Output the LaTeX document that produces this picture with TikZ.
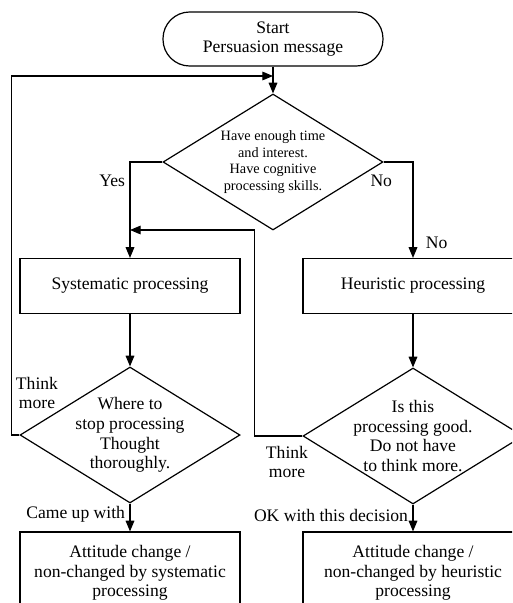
\documentclass[tikz,border=0pt]{standalone}
\usepackage{fontspec}
\setmainfont{Liberation Serif}
\usetikzlibrary{arrows.meta,shapes.geometric}

\tikzset{
  txt/.style={font=\fontsize{13.2}{14.8}\selectfont, align=center},
  qtxt/.style={font=\fontsize{10.7}{12.5}\selectfont, align=center},
  term/.style={txt, draw, line width=0.9pt, rounded corners=20pt, minimum width=165pt, minimum height=40.5pt, inner sep=0pt},
  box/.style={txt, draw, line width=0.9pt, minimum width=165pt, minimum height=41.25pt, inner sep=0pt},
  decision/.style={draw, diamond, line width=0.9pt, minimum width=165pt, minimum height=102pt, inner sep=0pt},
}

\begin{document}
\begin{tikzpicture}[x=0.75pt, y=-0.75pt, >={Triangle[length=8pt,width=6.5pt]}, line width=0.8pt]
\useasboundingbox (0,0) rectangle (512,603);
\clip (0,0) rectangle (512,603);

% start
\node[term] (start) at (273,39) {Start\\Persuasion message};

% first question
\node[decision, label={[qtxt]center:{Have enough time\\and interest.\\Have cognitive\\processing skills.}}] (q1) at (273,162) {};

% two routes
\node[box] (sys) at (130,286) {Systematic processing};
\node[box] (heu) at (413,286) {Heuristic processing};

% checks
\node[decision, label={[txt]center:{Where to\\stop processing\\Thought\\thoroughly.}}] (q2) at (130,435) {};
\node[decision, label={[txt]center:{Is this\\processing good.\\Do not have\\to think more.}}] (q3) at (413,436) {};

% results
\node[box, minimum height=61.5pt] (res1) at (130,573) {Attitude change /\\non-changed by systematic\\processing};
\node[box, minimum height=61.5pt] (res2) at (413,573) {Attitude change /\\non-changed by heuristic\\processing};

% where the loops come back
\coordinate (j1) at (273,76);
\coordinate (j2) at (130,230);

% arrows
\draw[->] (start) -- (q1);
\draw[->] (q1.west) -| (sys.north) node[txt, pos=0.6, left] (yes) {Yes};
\draw[->] (q1.east) -| (heu.north) node[txt, pos=0.6, left, xshift=-12pt] (no1) {No}
  node[txt, pos=0.92, right, xshift=6pt] (no2) {No};
\draw[->] (sys) -- (q2);
\draw[->] (heu) -- (q3);
\draw[->] (q2) -- (res1) node[txt, pos=0.4, left] (came) {Came up with};
\draw[->] (q3) -- (res2) node[txt, pos=0.4, left] (ok) {OK with this decision};

% loops
\draw[->] (q2.west) -- ++(-8,0) |- (j1);
\draw[->] (q3.west) -- ++(-48,0) |- (j2);
\node[txt] (more1) at (37,393) {Think\\more};
\node[txt] (more2) at (287,462) {Think\\more};
\end{tikzpicture}
\end{document}
